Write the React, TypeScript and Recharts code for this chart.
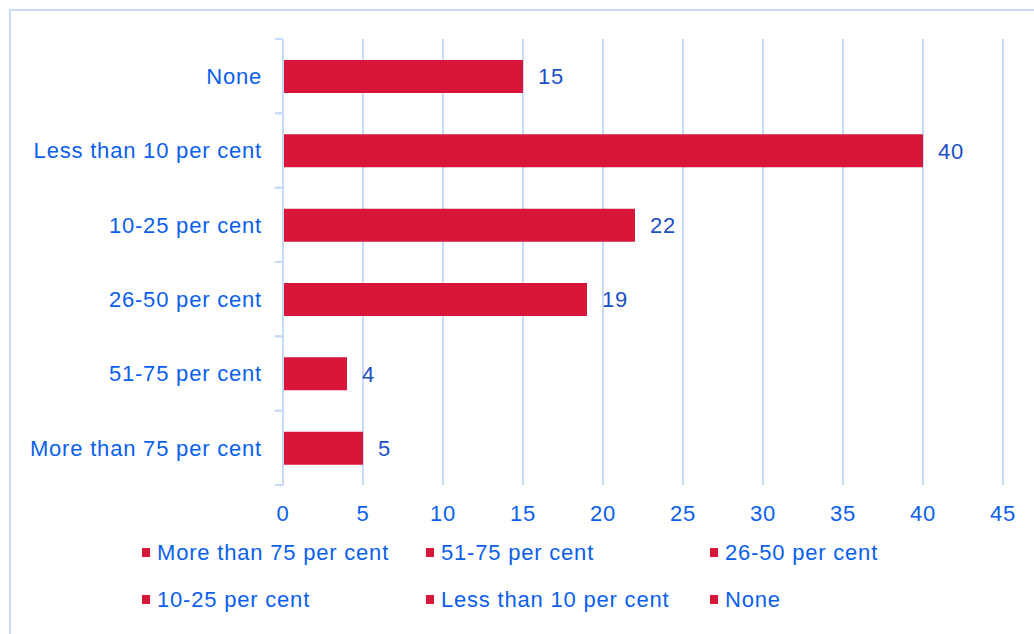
import React from 'react';
import { BarChart, Bar, XAxis, YAxis, CartesianGrid, LabelList, Legend } from 'recharts';

const categories = [
  'More than 75 per cent',
  '51-75 per cent',
  '26-50 per cent',
  '10-25 per cent',
  'Less than 10 per cent',
  'None',
];
const values = [5, 4, 19, 22, 40, 15];
const xTicks = [0, 5, 10, 15, 20, 25, 30, 35, 40, 45];

const data = categories.map((name, i) => ({ name, value: values[i] }));

const FONT = '"Liberation Sans", Arial, sans-serif';
const BAR = '#d7163a';
const AXIS_TEXT = '#0b5fec';
const VALUE_TEXT = '#1a4fc6';
const GRID = '#c6dbf8';
const Y_TICK_MARGIN = 21;
const Y_TICK_LEN = 8;

const CategoryTick = (props: any) => {
  const { x, y, payload, height, visibleTicksCount } = props;
  const n = visibleTicksCount || categories.length;
  const half = typeof height === 'number' ? height / n / 2 : 0;
  const ax = x + Y_TICK_MARGIN;
  return (
    <g>
      {half > 0 && (
        <>
          <line x1={ax - Y_TICK_LEN} x2={ax} y1={y - half} y2={y - half} stroke={GRID} strokeWidth={2} />
          <line x1={ax - Y_TICK_LEN} x2={ax} y1={y + half} y2={y + half} stroke={GRID} strokeWidth={2} />
        </>
      )}
      <text
        x={x}
        y={y}
        dy="0.355em"
        textAnchor="end"
        fill={AXIS_TEXT}
        fontSize={22}
        fontFamily={FONT}
        letterSpacing={0.8}
      >
        {payload.value}
      </text>
    </g>
  );
};

const renderLegend = () => (
  <div
    style={{
      display: 'flex',
      flexWrap: 'wrap',
      paddingLeft: 142,
      width: 852,
      boxSizing: 'content-box',
      fontFamily: FONT,
      fontSize: 22,
      letterSpacing: 0.8,
      color: AXIS_TEXT,
    }}
  >
    {categories.map((c) => (
      <div key={c} style={{ width: 284, height: 47, display: 'flex', alignItems: 'center' }}>
        <span style={{ display: 'inline-block', width: 8, height: 9, background: BAR, marginRight: 7 }} />
        <span style={{ lineHeight: '22px' }}>{c}</span>
      </div>
    ))}
  </div>
);

export default function App() {
  return (
    <div style={{ position: 'absolute', left: 0, top: 0, width: 1034, height: 634, overflow: 'hidden', background: '#fff' }}>
      <div
        style={{
          position: 'absolute',
          left: 9,
          top: 9,
          width: 1100,
          height: 700,
          border: `2px solid ${GRID}`,
        }}
      />
      <div style={{ position: 'absolute', left: 0, top: 0 }}>
        <BarChart
          width={1034}
          height={634}
          data={data}
          layout="vertical"
          margin={{ top: 39, right: 31, bottom: 109, left: 0 }}
        >
          <CartesianGrid horizontal={false} stroke={GRID} strokeWidth={2} />
          <XAxis
            type="number"
            domain={[0, 45]}
            ticks={xTicks}
            axisLine={false}
            tickLine={false}
            tickSize={0}
            tickMargin={20}
            height={40}
            interval={0}
            tick={{ fill: AXIS_TEXT, fontSize: 22, fontFamily: FONT, letterSpacing: 0.8 }}
          />
          <YAxis
            type="category"
            dataKey="name"
            reversed
            width={283}
            axisLine={{ stroke: GRID, strokeWidth: 2 }}
            tickLine={false}
            tickSize={0}
            tickMargin={Y_TICK_MARGIN}
            interval={0}
            tick={<CategoryTick />}
          />
          <Legend
            layout="horizontal"
            verticalAlign="middle"
            align="center"
            wrapperStyle={{ left: 0, top: 529, width: 1034, height: 94 }}
            content={renderLegend}
          />
          <Bar dataKey="value" fill={BAR} barSize={33} isAnimationActive={false}>
            <LabelList
              dataKey="value"
              position="right"
              offset={15}
              fill={VALUE_TEXT}
              fontSize={22}
              fontFamily={FONT}
              letterSpacing={0.8}
            />
          </Bar>
        </BarChart>
      </div>
    </div>
  );
}
